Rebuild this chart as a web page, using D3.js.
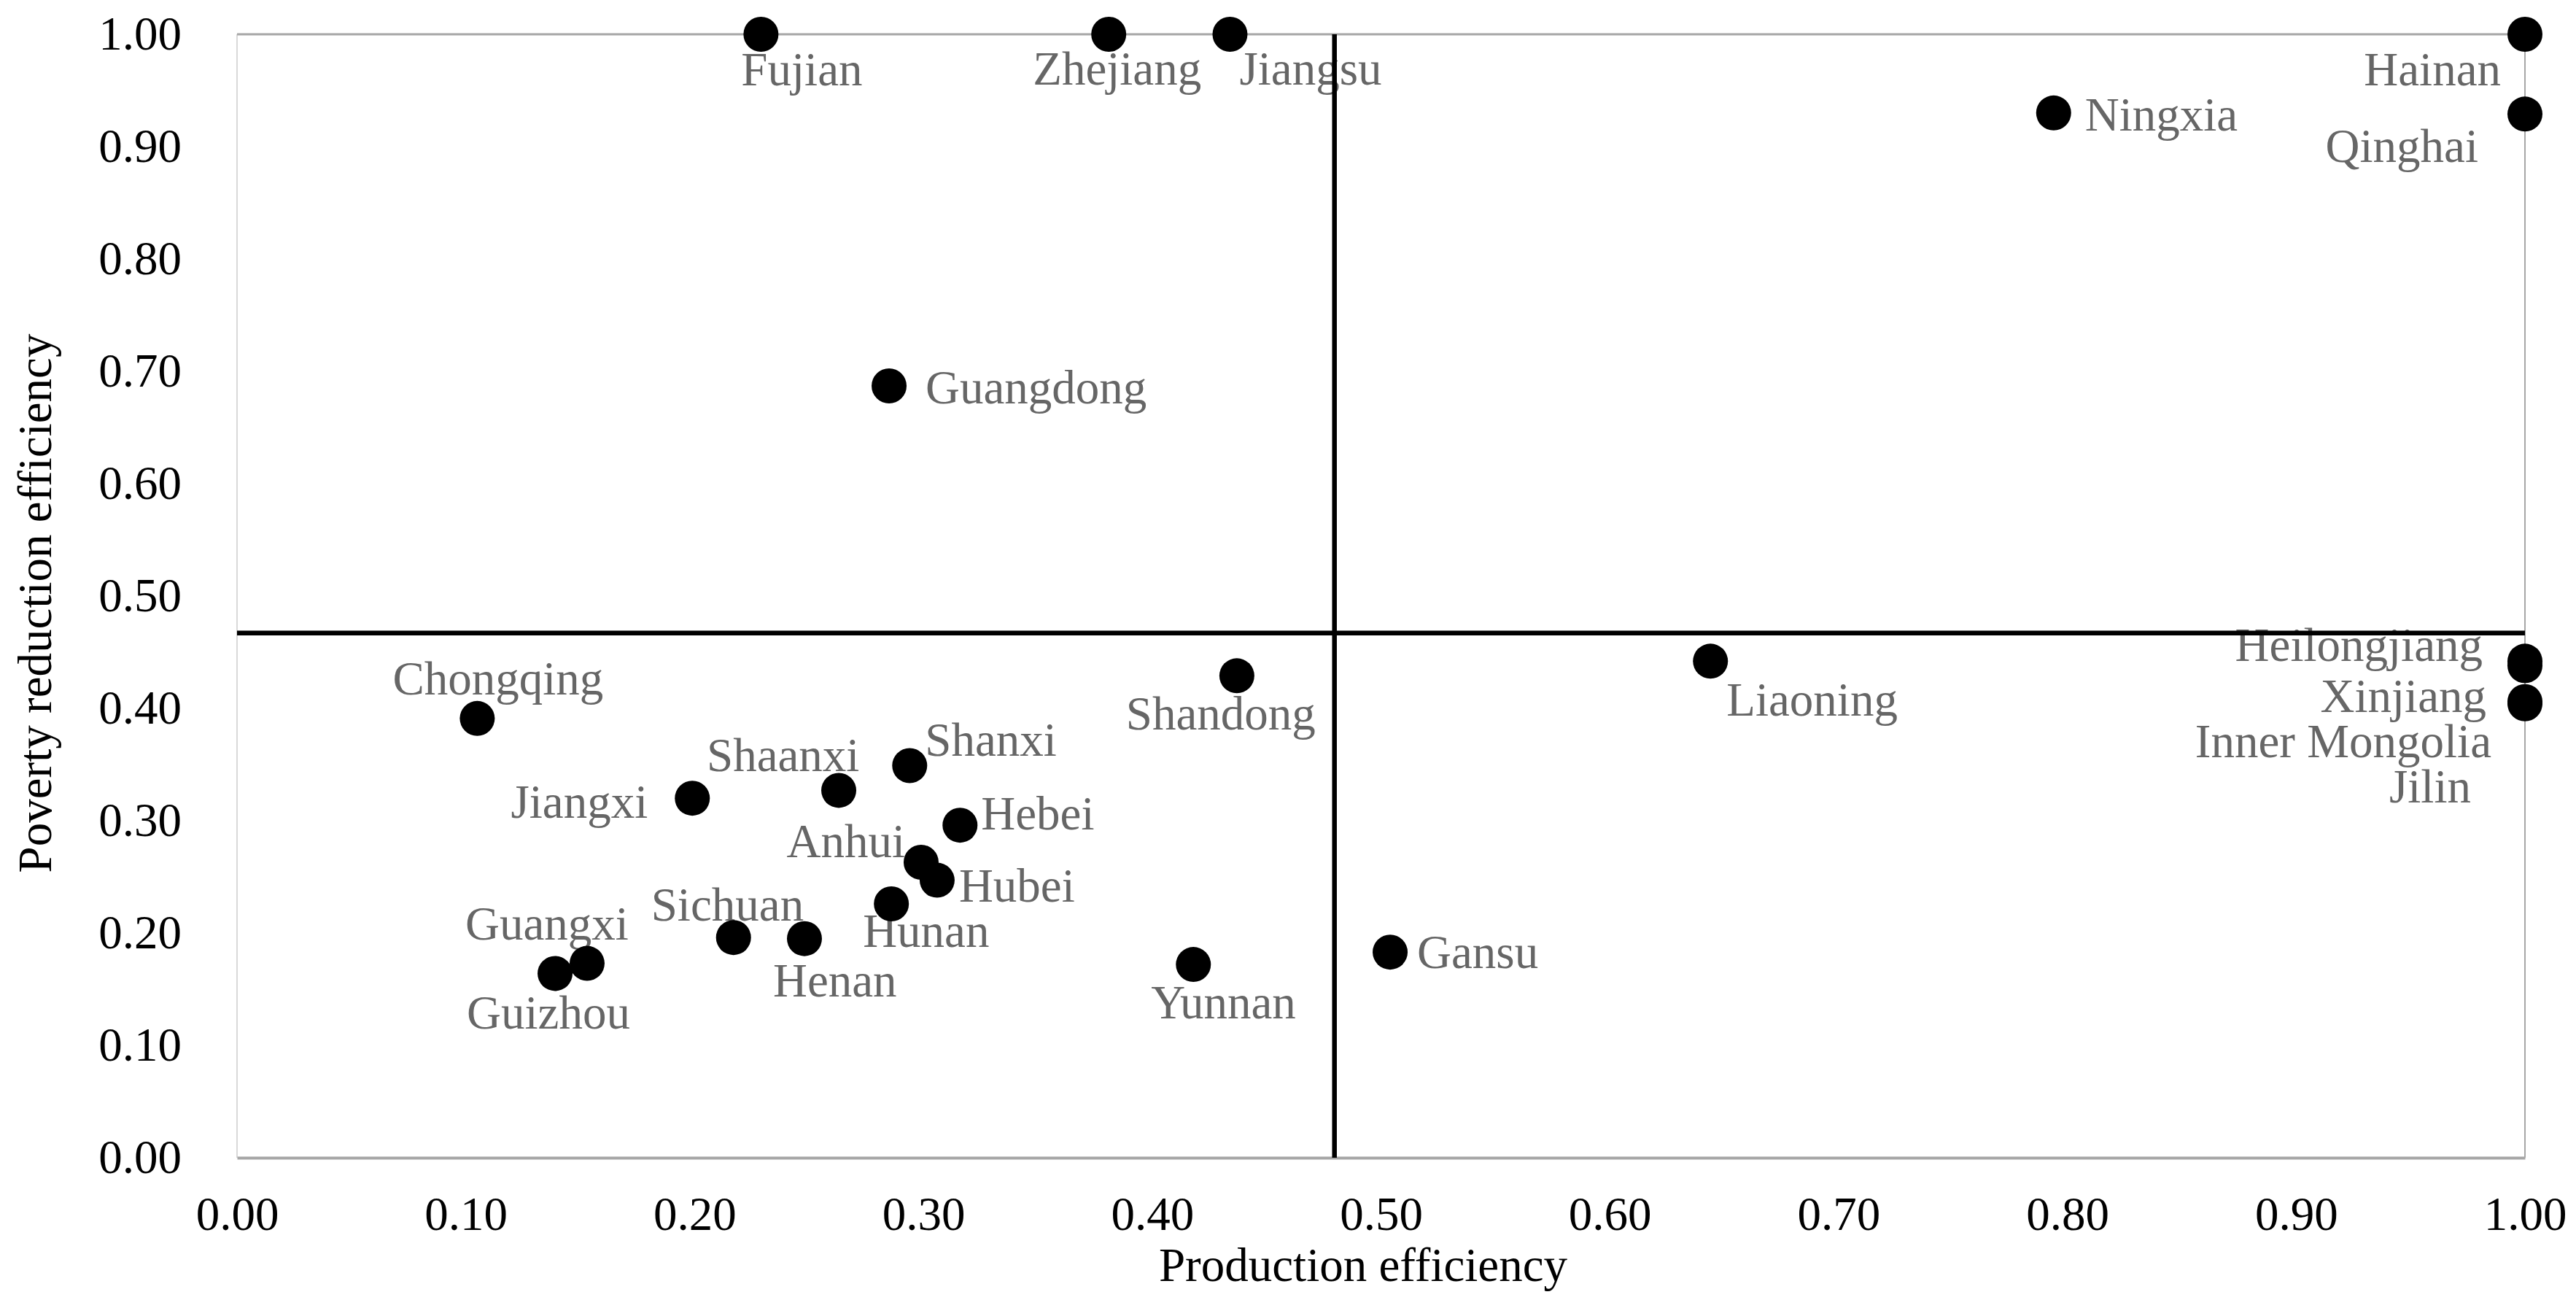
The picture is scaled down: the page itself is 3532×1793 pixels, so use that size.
<!DOCTYPE html>
<html>
<head>
<meta charset="utf-8">
<script src="https://d3js.org/d3.v7.min.js"></script>
<style>
  body { margin: 0; background: #fff; }
  svg { display: block; }
  text { font-family: "Liberation Serif", "Times New Roman", serif; }
</style>
</head>
<body>
<svg id="chart"></svg>
<script>
// provinces and their two efficiency scores
var provinces = ["Fujian", "Zhejiang", "Jiangsu", "Hainan", "Ningxia", "Qinghai",
  "Guangdong", "Chongqing", "Shandong", "Liaoning", "Heilongjiang", "Xinjiang",
  "Inner Mongolia", "Jilin", "Shanxi", "Jiangxi", "Shaanxi", "Hebei", "Anhui",
  "Hubei", "Hunan", "Sichuan", "Henan", "Guangxi", "Guizhou", "Yunnan", "Gansu"];

var productionEff = [0.229, 0.381, 0.434, 1.000, 0.794, 1.000,
  0.285, 0.105, 0.437, 0.644, 1.000, 1.000,
  1.000, 1.000, 0.294, 0.199, 0.263, 0.316, 0.299,
  0.306, 0.286, 0.217, 0.248, 0.153, 0.139, 0.418, 0.504];

var povertyEff = [1.000, 1.000, 1.000, 1.000, 0.930, 0.929,
  0.687, 0.391, 0.429, 0.442, 0.442, 0.438,
  0.406, 0.404, 0.349, 0.320, 0.327, 0.296, 0.263,
  0.247, 0.226, 0.196, 0.195, 0.173, 0.164, 0.172, 0.183];

var xTicks = [0, 0.1, 0.2, 0.3, 0.4, 0.5, 0.6, 0.7, 0.8, 0.9, 1.0];
var yTicks = [0, 0.1, 0.2, 0.3, 0.4, 0.5, 0.6, 0.7, 0.8, 0.9, 1.0];

var xTitle = "Production efficiency";
var yTitle = "Poverty reduction efficiency";

// where each data label sits relative to its dot (pixels)
var labelPlacement = {
  "Fujian": [-27, 70, "start"],
  "Zhejiang": [-104, 69, "start"],
  "Jiangsu": [13, 69, "start"],
  "Hainan": [-33, 70, "end"],
  "Ningxia": [43, 24, "start"],
  "Qinghai": [-64, 66, "end"],
  "Guangdong": [50, 24, "start"],
  "Chongqing": [-116, -33, "start"],
  "Shandong": [-152, 74, "start"],
  "Liaoning": [22, 75, "start"],
  "Heilongjiang": [-58, 0, "end"],
  "Xinjiang": [-53, 64, "end"],
  "Inner Mongolia": [-46, 76, "end"],
  "Jilin": [-74, 135, "end"],
  "Shanxi": [21, -14, "start"],
  "Jiangxi": [-61, 27, "end"],
  "Shaanxi": [-181, -26, "start"],
  "Hebei": [29, 6, "start"],
  "Anhui": [-22, -7, "end"],
  "Hubei": [30, 29, "start"],
  "Hunan": [-39, 59, "start"],
  "Sichuan": [-113, -23, "start"],
  "Henan": [-43, 79, "start"],
  "Guangxi": [-167, -33, "start"],
  "Guizhou": [-121, 76, "start"],
  "Yunnan": [-58, 74, "start"],
  "Gansu": [37, 22, "start"]
};

var data = provinces.map(function(p, i) {
  return { name: p, x: productionEff[i], y: povertyEff[i] };
});

var width = 3532, height = 1793;
var plotLeft = 325, plotRight = 3462, plotTop = 47, plotBottom = 1587;
var fontSize = 65;

var svg = d3.select("#chart")
  .attr("width", width)
  .attr("height", height);

var xScale = d3.scaleLinear().domain([0, 1]).range([plotLeft, plotRight]);
var yScale = d3.scaleLinear().domain([0, 1]).range([plotBottom, plotTop]);

// plot area frame
svg.append("line")
  .attr("x1", plotLeft).attr("x2", plotLeft).attr("y1", plotTop).attr("y2", plotBottom)
  .attr("stroke", "#d9d9d9").attr("stroke-width", 2);
svg.append("line")
  .attr("x1", plotRight).attr("x2", plotRight).attr("y1", plotTop).attr("y2", plotBottom)
  .attr("stroke", "#a6a6a6").attr("stroke-width", 2);
svg.append("line")
  .attr("x1", plotLeft).attr("x2", plotRight).attr("y1", plotTop).attr("y2", plotTop)
  .attr("stroke", "#a6a6a6").attr("stroke-width", 3);

// axes
var xAxis = svg.append("g")
  .attr("transform", "translate(0," + plotBottom + ")")
  .call(d3.axisBottom(xScale).tickValues(xTicks).tickFormat(d3.format(".2f"))
    .tickSize(0).tickPadding(53));
xAxis.select(".domain").attr("stroke", "#a6a6a6").attr("stroke-width", 4);
xAxis.selectAll("text")
  .style("font-family", "'Liberation Serif', 'Times New Roman', serif")
  .style("font-size", fontSize + "px")
  .attr("fill", "#000");

var yAxis = svg.append("g")
  .attr("transform", "translate(" + plotLeft + ",0)")
  .call(d3.axisLeft(yScale).tickValues(yTicks).tickFormat(d3.format(".2f"))
    .tickSize(0).tickPadding(76));
yAxis.select(".domain").remove();
yAxis.selectAll("text")
  .style("font-family", "'Liberation Serif', 'Times New Roman', serif")
  .style("font-size", fontSize + "px")
  .attr("fill", "#000");

// axis titles
svg.append("text")
  .attr("x", 1869).attr("y", 1756)
  .attr("text-anchor", "middle")
  .style("font-size", fontSize + "px")
  .attr("fill", "#000")
  .text(xTitle);

svg.append("text")
  .attr("transform", "translate(70,827) rotate(-90)")
  .attr("text-anchor", "middle")
  .style("font-size", fontSize + "px")
  .attr("fill", "#000")
  .text(yTitle);

// data labels
svg.append("g").selectAll("text")
  .data(data)
  .enter().append("text")
  .attr("x", function(d) { return xScale(d.x) + labelPlacement[d.name][0]; })
  .attr("y", function(d) { return yScale(d.y) + labelPlacement[d.name][1]; })
  .attr("text-anchor", function(d) { return labelPlacement[d.name][2]; })
  .style("font-size", fontSize + "px")
  .attr("fill", "#666666")
  .text(function(d) { return d.name; });

// mean lines splitting the four quadrants
var meanX = d3.mean(productionEff);
var meanY = d3.mean(povertyEff);

svg.append("line")
  .attr("x1", xScale(meanX)).attr("x2", xScale(meanX))
  .attr("y1", yScale(1)).attr("y2", yScale(0))
  .attr("stroke", "#000").attr("stroke-width", 6.5);
svg.append("line")
  .attr("x1", xScale(0)).attr("x2", xScale(1))
  .attr("y1", yScale(meanY)).attr("y2", yScale(meanY))
  .attr("stroke", "#000").attr("stroke-width", 6.5);

// points
svg.append("g").selectAll("circle")
  .data(data)
  .enter().append("circle")
  .attr("cx", function(d) { return xScale(d.x); })
  .attr("cy", function(d) { return yScale(d.y); })
  .attr("r", 24)
  .attr("fill", "#000");
</script>
</body>
</html>
